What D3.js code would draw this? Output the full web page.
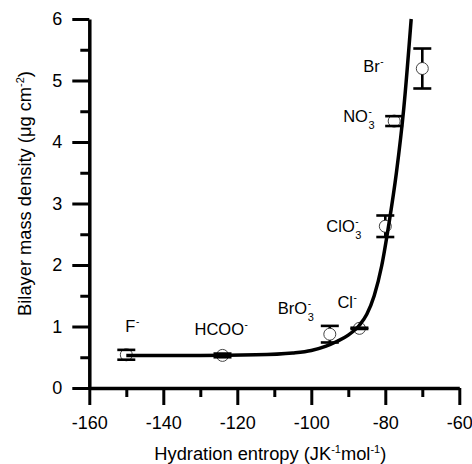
<!DOCTYPE html>
<html>
<head>
<meta charset="utf-8">
<script src="https://cdn.jsdelivr.net/npm/d3@7"></script>
<style>
    body { margin: 0; background: #fff; }
    svg { display: block; font-family: "Liberation Sans", Arial, sans-serif; }
</style>
</head>
<body>
<svg id="visualization" width="472" height="464"></svg>
<script>
// measured points
const ions = ["F", "HCOO", "BrO", "Cl", "ClO", "NO", "Br"];
const ionSub = ["", "", "3", "", "3", "3", ""];
const entropy = [-150, -124, -95, -87, -80, -77.6, -70];
const density = [0.54, 0.53, 0.875, 0.97, 2.63, 4.34, 5.195];
const errors = [0.08, 0.03, 0.135, 0.01, 0.175, 0.08, 0.325];

// fitted curve
const fitX = [-150, -130, -115, -105, -100, -96, -93, -90, -87, -85, -83, -81, -79, -77, -75, -73];
const fitY = [0.53, 0.53, 0.54, 0.57, 0.61, 0.68, 0.76, 0.86, 1.02, 1.2, 1.5, 1.98, 2.68, 3.5, 4.55, 6.0];

const xTicks = [-160, -140, -120, -100, -80, -60];
const xMinor = [-150, -130, -110, -90, -70];
const yTicks = [0, 1, 2, 3, 4, 5, 6];
const yMinor = [0.5, 1.5, 2.5, 3.5, 4.5, 5.5];

// label offsets from each point, px
const labelOffset = [[-1, -23], [-28, -20], [-52, -20], [-22, -20], [-59, 6], [-51, 1], [-59, 3]];

const setupVisualization = () => {
    const margin = { top: 19, right: 12.7, bottom: 76, left: 89.3 };
    const width = 472 - margin.left - margin.right;
    const height = 464 - margin.top - margin.bottom;
    const r = 6;

    const xScale = d3.scaleLinear().domain([-160, -60]).range([0, width]);
    const yScale = d3.scaleLinear().domain([0, 6]).range([height, 0]);

    const svg = d3.select("#visualization");
    const chart = svg.append("g")
        .attr("transform", `translate(${margin.left}, ${margin.top})`);

    // minor ticks first so the main axis sits on top
    chart.append("g")
        .attr("transform", `translate(0, ${height})`)
        .call(d3.axisBottom(xScale).tickValues(xMinor).tickSize(9).tickFormat("").tickSizeOuter(0))
        .call(g => g.select(".domain").remove());
    chart.append("g")
        .call(d3.axisLeft(yScale).tickValues(yMinor).tickSize(9).tickFormat("").tickSizeOuter(0))
        .call(g => g.select(".domain").remove());

    chart.append("g")
        .attr("transform", `translate(0, ${height})`)
        .call(d3.axisBottom(xScale).tickValues(xTicks).tickSize(17).tickPadding(11)
            .tickFormat(d => String(d)).tickSizeOuter(0));
    chart.append("g")
        .call(d3.axisLeft(yScale).tickValues(yTicks).tickSize(17).tickPadding(10)
            .tickFormat(d => String(d)).tickSizeOuter(0));

    chart.selectAll(".tick line").attr("stroke", "#000").attr("stroke-width", 3);
    chart.selectAll(".domain").attr("stroke", "#000").attr("stroke-width", 3.5);
    chart.selectAll(".tick text")
        .attr("font-size", 18)
        .attr("font-family", "Liberation Sans, Arial, sans-serif")
        .attr("fill", "#000");

    // axis titles
    const xTitle = svg.append("text")
        .attr("x", margin.left + width / 2 - 4)
        .attr("y", 460)
        .attr("text-anchor", "middle")
        .attr("font-size", 18.3);
    xTitle.append("tspan").text("Hydration entropy (JK");
    xTitle.append("tspan").attr("dy", -7).attr("font-size", 11).text("-1");
    xTitle.append("tspan").attr("dy", 7).text("mol");
    xTitle.append("tspan").attr("dy", -7).attr("font-size", 11).text("-1");
    xTitle.append("tspan").attr("dy", 7).text(")");

    const yTitle = svg.append("text")
        .attr("transform", `translate(31, ${margin.top + height / 2 - 10}) rotate(-90)`)
        .attr("text-anchor", "middle")
        .attr("font-size", 18.3);
    yTitle.append("tspan").text("Bilayer mass density (\u03bcg cm");
    yTitle.append("tspan").attr("dy", -7).attr("font-size", 11).text("-2");
    yTitle.append("tspan").attr("dy", 7).text(")");

    const data = ions.map((ion, i) => ({
        ion: ion, sub: ionSub[i], x: entropy[i], y: density[i], err: errors[i], off: labelOffset[i]
    }));

    chart.selectAll(".ball")
        .data(data)
        .join("circle")
        .attr("r", r)
        .attr("cx", d => xScale(d.x))
        .attr("cy", d => yScale(d.y))
        .attr("fill", "#fff")
        .attr("stroke", "#444")
        .attr("stroke-width", 1);

    // error bars: stems stop at the symbol, caps are drawn over it
    const bars = chart.selectAll(".err")
        .data(data)
        .join("g")
        .attr("stroke", "#000")
        .attr("stroke-width", 2.6);
    bars.filter(d => yScale(d.y) - yScale(d.y + d.err) > r).append("line")
        .attr("x1", d => xScale(d.x)).attr("x2", d => xScale(d.x))
        .attr("y1", d => yScale(d.y + d.err)).attr("y2", d => yScale(d.y) - r);
    bars.filter(d => yScale(d.y - d.err) - yScale(d.y) > r).append("line")
        .attr("x1", d => xScale(d.x)).attr("x2", d => xScale(d.x))
        .attr("y1", d => yScale(d.y) + r).attr("y2", d => yScale(d.y - d.err));
    bars.append("line")
        .attr("x1", d => xScale(d.x) - 9).attr("x2", d => xScale(d.x) + 9)
        .attr("y1", d => yScale(d.y + d.err)).attr("y2", d => yScale(d.y + d.err));
    bars.append("line")
        .attr("x1", d => xScale(d.x) - 9).attr("x2", d => xScale(d.x) + 9)
        .attr("y1", d => yScale(d.y - d.err)).attr("y2", d => yScale(d.y - d.err));

    // fit line
    const line = d3.line()
        .x(d => xScale(d[0]))
        .y(d => yScale(d[1]))
        .curve(d3.curveMonotoneX);
    chart.append("path")
        .datum(fitX.map((v, i) => [v, fitY[i]]))
        .attr("d", line)
        .attr("fill", "none")
        .attr("stroke", "#000")
        .attr("stroke-width", 3.5);

    // ion labels
    data.forEach(d => {
        const px = xScale(d.x) + d.off[0];
        const py = yScale(d.y) + d.off[1];
        const t = chart.append("text")
            .attr("x", px).attr("y", py)
            .attr("font-size", 16.5)
            .text(d.ion);
        const w = t.node().getComputedTextLength();
        chart.append("text")
            .attr("x", px + w + 0.5).attr("y", py - 7)
            .attr("font-size", 10)
            .text("-");
        if (d.sub) {
            chart.append("text")
                .attr("x", px + w + 0.5).attr("y", py + 7)
                .attr("font-size", 11)
                .text(d.sub);
        }
    });
};

setupVisualization();
</script>
</body>
</html>
